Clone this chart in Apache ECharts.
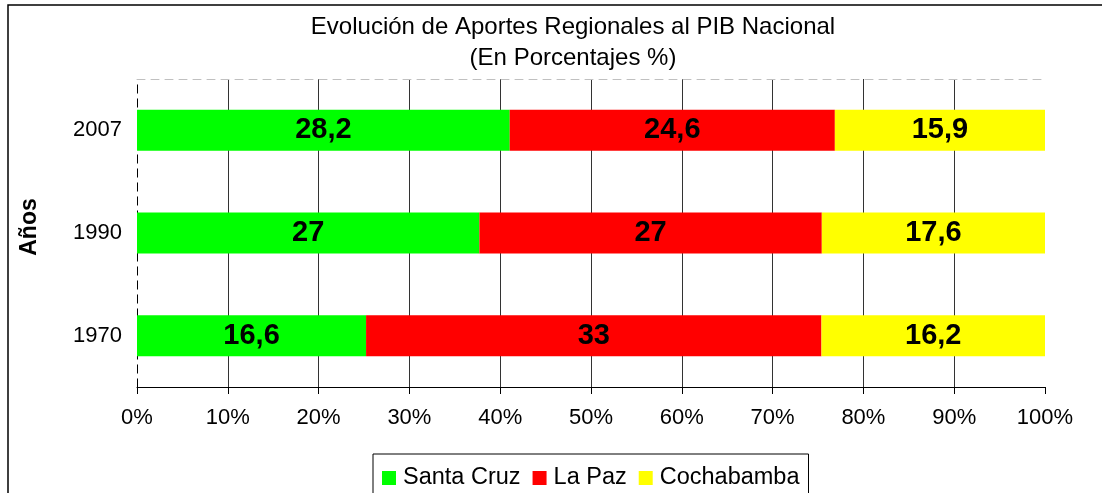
<!DOCTYPE html>
<html>
<head>
<meta charset="utf-8">
<script src="https://cdn.jsdelivr.net/npm/echarts@6/dist/echarts.min.js"></script>
<style>
  html, body { margin: 0; padding: 0; background: #fff; }
  #main { width: 1102px; height: 493px; }
</style>
</head>
<body>
<div id="main"></div>
<script>
// datos del grafico
var years = ["1970", "1990", "2007"];
var santaCruz = [16.6, 27, 28.2];
var laPaz = [33, 27, 24.6];
var cochabamba = [16.2, 17.6, 15.9];
var xTicks = [0, 10, 20, 30, 40, 50, 60, 70, 80, 90, 100];

var FONT = "Liberation Sans, Arial, sans-serif";

// porcentaje de cada barra sobre el total del año
function toPct(arr, i) {
  var total = santaCruz[i] + laPaz[i] + cochabamba[i];
  return (arr[i] / total) * 100;
}

function buildSerie(name, raw, color) {
  return {
    name: name,
    type: "bar",
    stack: "total",
    barWidth: "40%",
    itemStyle: { color: color },
    label: {
      show: true,
      position: "inside",
      color: "#000",
      fontFamily: FONT,
      fontWeight: "bold",
      fontSize: 29,
      formatter: function(p) {
        return String(raw[p.dataIndex]).replace(".", ",");
      }
    },
    data: years.map(function(y, i) { return toPct(raw, i); })
  };
}

var myChart = echarts.init(document.getElementById("main"));
myChart.setOption({
  animation: false,
  textStyle: { fontFamily: FONT },
  title: {
    text: "Evolución de Aportes Regionales al PIB Nacional\n(En Porcentajes %)",
    left: 568,
    top: 7,
    textAlign: "center",
    textStyle: {
      fontFamily: FONT,
      fontWeight: "normal",
      fontSize: 24,
      lineHeight: 31,
      color: "#000"
    }
  },
  legend: {
    left: 373,
    top: 454,
    padding: [12, 9, 12, 9],
    borderColor: "#000",
    borderWidth: 1,
    itemWidth: 14,
    itemHeight: 14,
    itemGap: 12,
    icon: "rect",
    textStyle: { fontFamily: FONT, fontSize: 23.5, color: "#000", padding: [0, 0, 0, 2] },
    data: ["Santa Cruz", "La Paz", "Cochabamba"]
  },
  graphic: [
    {
      type: "rect",
      shape: { x: 8, y: 5, width: 1100, height: 500 },
      style: { fill: "none", stroke: "#000", lineWidth: 1.5 },
      silent: true
    }
  ],
  grid: { left: 137, right: 57, top: 79, bottom: 106 },
  xAxis: [
    {
      type: "value",
      min: 0,
      max: 100,
      interval: 10,
      axisLine: { show: true, lineStyle: { color: "#000", width: 1 } },
      axisTick: { show: true, length: 7, lineStyle: { color: "#000" } },
      axisLabel: {
        margin: 20,
        fontFamily: FONT,
        fontSize: 22,
        color: "#000",
        formatter: function(v) { return xTicks.indexOf(v) >= 0 ? v + "%" : ""; }
      },
      splitLine: {
        show: true,
        showMinLine: false,
        showMaxLine: false,
        lineStyle: { color: "#333", width: 1 }
      }
    },
    {
      type: "value",
      position: "top",
      min: 0,
      max: 100,
      interval: 10,
      axisLine: { show: true, lineStyle: { color: "#c0c0c0", type: [8, 6] } },
      axisTick: { show: false },
      axisLabel: { show: false },
      splitLine: { show: false }
    }
  ],
  yAxis: [
    {
      type: "category",
      data: years,
      name: "Años",
      nameLocation: "middle",
      nameRotate: 90,
      nameGap: 96,
      nameTextStyle: {
        fontFamily: FONT,
        fontWeight: "bold",
        fontSize: 23,
        color: "#000",
        padding: [0, 0, 0, 12]
      },
      axisLine: { show: true, lineStyle: { color: "#808080", type: [8, 6] } },
      axisTick: { show: false },
      axisLabel: { margin: 15, fontFamily: FONT, fontSize: 22, color: "#000" }
    },
    {
      type: "category",
      data: years,
      position: "right",
      axisLine: { show: true, lineStyle: { color: "#000", type: [8, 6] } },
      axisTick: { show: false },
      axisLabel: { show: false }
    }
  ],
  series: [
    buildSerie("Santa Cruz", santaCruz, "#00ff00"),
    buildSerie("La Paz", laPaz, "#ff0000"),
    buildSerie("Cochabamba", cochabamba, "#ffff00")
  ]
});
</script>
</body>
</html>
